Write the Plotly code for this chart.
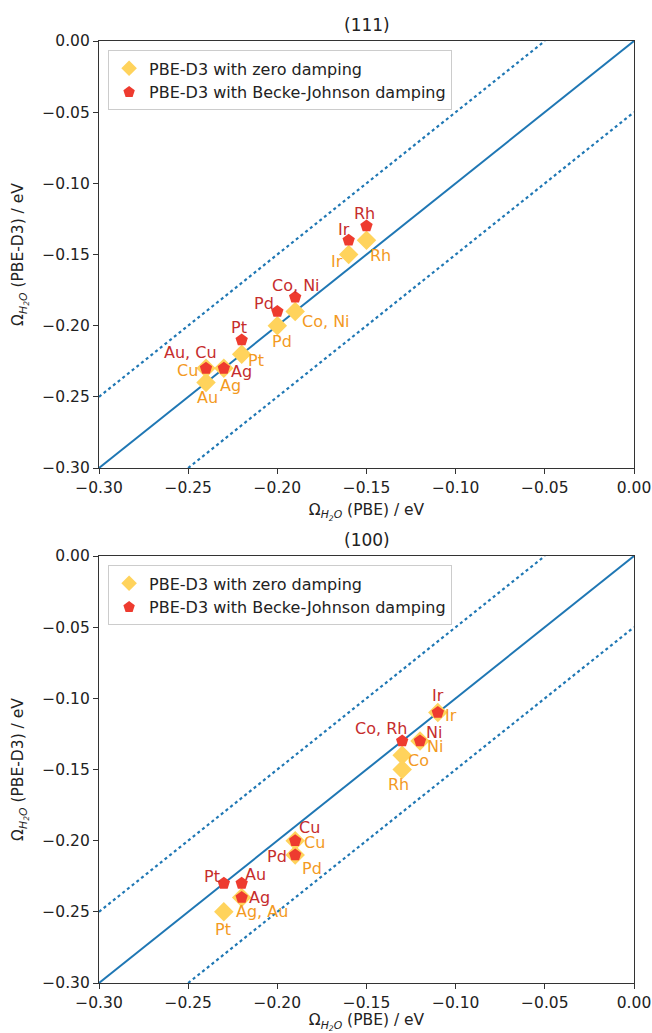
import plotly.graph_objects as go

# ---------------- data ----------------
# (111) facet
t_zero_x = [-0.24, -0.24, -0.23, -0.22, -0.20, -0.19, -0.16, -0.15]
t_zero_y = [-0.24, -0.23, -0.23, -0.22, -0.20, -0.19, -0.15, -0.14]
t_zero_lab = ["Au", "Cu", "Ag", "Pt", "Pd", "Co, Ni", "Ir", "Rh"]

t_bj_x = [-0.24, -0.23, -0.22, -0.20, -0.19, -0.16, -0.15]
t_bj_y = [-0.23, -0.23, -0.21, -0.19, -0.18, -0.14, -0.13]
t_bj_lab = ["Au, Cu", "Ag", "Pt", "Pd", "Co, Ni", "Ir", "Rh"]

# (100) facet
b_zero_x = [-0.11, -0.12, -0.13, -0.13, -0.19, -0.19, -0.23, -0.22]
b_zero_y = [-0.11, -0.13, -0.14, -0.15, -0.20, -0.21, -0.25, -0.24]
b_zero_lab = ["Ir", "Ni", "Co", "Rh", "Cu", "Pd", "Pt", "Ag, Au"]

b_bj_x = [-0.11, -0.13, -0.12, -0.19, -0.19, -0.23, -0.22, -0.22]
b_bj_y = [-0.11, -0.13, -0.13, -0.20, -0.21, -0.23, -0.23, -0.24]
b_bj_lab = ["Ir", "Co, Rh", "Ni", "Cu", "Pd", "Pt", "Au", "Ag"]

diag_x = [-0.30, 0.00]
band = 0.05
tick_vals = [-0.30, -0.25, -0.20, -0.15, -0.10, -0.05, 0.00]

# ---------------- label placement (pixel offsets: right, down) ----------------
t_zero_off = [(1, 15), (-19, 2), (7, 17), (14, 6), (5, 16), (31, 10), (-12, 7), (14, 15)]
t_bj_off = [(-16, -16), (18, 3), (-3, -12), (-13, -8), (1, -12), (-5, -11), (-2, -13)]
b_zero_off = [(13, 3), (15, 5), (16, 5), (-4, 15), (19, 2), (17, 14), (-1, 18), (20, 14)]
b_bj_off = [(0, -17), (-21, -13), (14, -9), (14, -13), (-18, 2), (-12, -7), (14, -9), (18, 0)]

# ---------------- styles ----------------
LINE_C = "#1f77b4"
ZERO_C = "#ffd35c"
BJ_C = "#ee3b2f"
ZERO_TXT = "#f39a1f"
BJ_TXT = "#c62d2d"
FONT = "DejaVu Sans"
LAB_SIZE = 16

fig = go.Figure()
annotations = []

def add_labels(xs, ys, labs, offs, color, xa, ya):
    for x, y, t, (dx, dy) in zip(xs, ys, labs, offs):
        annotations.append(dict(x=x, y=y, xref=xa, yref=ya, text=t, showarrow=False,
                                xanchor="center", yanchor="middle",
                                xshift=dx, yshift=-dy,
                                font=dict(size=LAB_SIZE, family=FONT, color=color)))

def add_panel(row, zx, zy, zl, zo, bx, by, bl, bo, legend_name):
    xa = "x" if row == 1 else "x2"
    ya = "y" if row == 1 else "y2"
    fig.add_trace(go.Scatter(x=diag_x, y=diag_x, mode="lines",
                             line=dict(color=LINE_C, width=2),
                             showlegend=False, xaxis=xa, yaxis=ya, hoverinfo="skip"))
    fig.add_trace(go.Scatter(x=[diag_x[0], diag_x[1] - band],
                             y=[diag_x[0] + band, diag_x[1]], mode="lines",
                             line=dict(color=LINE_C, width=2.2, dash="dot"),
                             showlegend=False, xaxis=xa, yaxis=ya, hoverinfo="skip"))
    fig.add_trace(go.Scatter(x=[diag_x[0] + band, diag_x[1]],
                             y=[diag_x[0], diag_x[1] - band], mode="lines",
                             line=dict(color=LINE_C, width=2.2, dash="dot"),
                             showlegend=False, xaxis=xa, yaxis=ya, hoverinfo="skip"))
    fig.add_trace(go.Scatter(x=zx, y=zy, mode="markers", name="PBE-D3 with zero damping",
                             marker=dict(symbol="diamond", size=15, color=ZERO_C),
                             legend=legend_name, xaxis=xa, yaxis=ya))
    fig.add_trace(go.Scatter(x=bx, y=by, mode="markers",
                             name="PBE-D3 with Becke-Johnson damping",
                             marker=dict(symbol="pentagon", size=13, color=BJ_C),
                             legend=legend_name, xaxis=xa, yaxis=ya))
    add_labels(zx, zy, zl, zo, ZERO_TXT, xa, ya)
    add_labels(bx, by, bl, bo, BJ_TXT, xa, ya)

add_panel(1, t_zero_x, t_zero_y, t_zero_lab, t_zero_off,
          t_bj_x, t_bj_y, t_bj_lab, t_bj_off, "legend")
add_panel(2, b_zero_x, b_zero_y, b_zero_lab, b_zero_off,
          b_bj_x, b_bj_y, b_bj_lab, b_bj_off, "legend2")

# full-window figure (page body margin removed by post_script below)
W, H, L, R, T, B = 652, 1033, 99, 18, 41, 50
plot_h = H - T - B
top_dom = [(plot_h - 427) / plot_h, 1.0]
bot_dom = [0.0, 427 / plot_h]

omega = "Ω<sub><i>H<sub>2</sub>O</i></sub>"
AX_C = "#333333"
TXT_C = "#222222"

def xax(anchor, standoff):
    return dict(range=[-0.30, 0.00], tickvals=tick_vals, tickformat=".2f",
                showgrid=False, zeroline=False, showline=True, linecolor=AX_C,
                linewidth=1.2, mirror=True, ticks="outside", ticklen=5,
                tickcolor=AX_C, tickfont=dict(size=15.5, family=FONT, color=TXT_C),
                title=dict(text=omega + " (PBE) / eV",
                           font=dict(size=15.5, family=FONT, color=TXT_C),
                           standoff=standoff),
                anchor=anchor, automargin=False)

def yax(domain, anchor):
    return dict(range=[-0.30, 0.00], tickvals=tick_vals, tickformat=".2f",
                domain=domain, anchor=anchor,
                showgrid=False, zeroline=False, showline=True, linecolor=AX_C,
                linewidth=1.2, mirror=True, ticks="outside", ticklen=5,
                tickcolor=AX_C, tickfont=dict(size=15.5, family=FONT, color=TXT_C),
                title=dict(text=omega + " (PBE-D3) / eV",
                           font=dict(size=15.5, family=FONT, color=TXT_C), standoff=14),
                automargin=False)

legend_style = dict(xanchor="left", yanchor="top", bgcolor="rgba(255,255,255,0.9)",
                    bordercolor="#cccccc", borderwidth=1,
                    font=dict(size=16, family=FONT, color=TXT_C),
                    itemsizing="constant", tracegroupgap=2)

annotations += [
    dict(text="(111)", x=0.5, y=top_dom[1], xref="paper", yref="paper",
         xanchor="center", yanchor="bottom", yshift=4, showarrow=False,
         font=dict(size=17, family=FONT, color=TXT_C)),
    dict(text="(100)", x=0.5, y=bot_dom[1], xref="paper", yref="paper",
         xanchor="center", yanchor="bottom", yshift=4, showarrow=False,
         font=dict(size=17, family=FONT, color=TXT_C)),
]

fig.update_layout(
    width=W, height=H,
    margin=dict(l=L, r=R, t=T, b=B, autoexpand=False),
    paper_bgcolor="white", plot_bgcolor="white",
    font=dict(family=FONT),
    xaxis=xax("y", 8), yaxis=yax(top_dom, "x"),
    xaxis2=xax("y2", 4), yaxis2=yax(bot_dom, "x2"),
    legend=dict(x=0.017, y=0.99, **legend_style),
    legend2=dict(x=0.017, y=bot_dom[1] - 0.01, **legend_style),
    annotations=annotations,
)

fig.write_html("out.html", config={"displayModeBar": False},
               post_script="document.body.style.margin='0';document.body.style.overflow='hidden';")
